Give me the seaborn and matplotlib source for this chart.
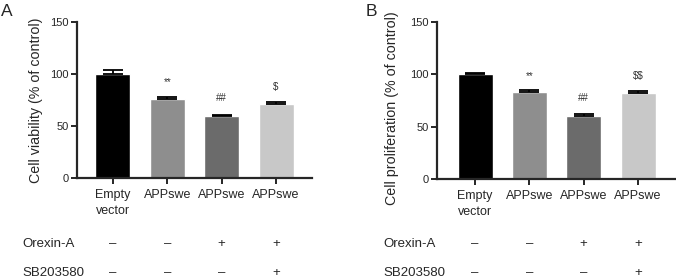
import matplotlib
matplotlib.use("Agg")
import matplotlib.pyplot as plt
import matplotlib.transforms as mtransforms
import seaborn as sns
import pandas as pd

groups = ["Empty vector", "APPswe", "APPswe+OXA", "APPswe+OXA+SB"]
tick_labels = ["Empty\nvector", "APPswe", "APPswe", "APPswe"]
colors = ["#000000", "#8e8e8e", "#6b6b6b", "#c8c8c8"]

viability = [100, 76, 59.5, 71]
viability_err = [3.5, 2.0, 1.5, 2.0]
viability_marks = ["", "**", "##", "$"]
viability_mark_y = [None, 87, 72, 83]

proliferation = [100, 83, 60, 82.5]
proliferation_err = [1.5, 2.3, 2.4, 2.0]
proliferation_marks = ["", "**", "##", "$$"]
proliferation_mark_y = [None, 94, 73, 94]

orexin = ["–", "–", "+", "+"]
sb203580 = ["–", "–", "–", "+"]

sns.set_style("ticks")
plt.rcParams["font.family"] = ["Liberation Sans", "DejaVu Sans"]

W, H = 676, 280
fig = plt.figure(figsize=(6.76, 2.8), dpi=100)
axA = fig.add_axes([77 / W, 1 - 178 / H, (312 - 77) / W, (178 - 22) / H])
axB = fig.add_axes([437 / W, 1 - 179 / H, (675 - 437) / W, (179 - 22) / H])


def panel(ax, vals, errs, marks, mark_y, ylabel, ylabel_x, ylabel_y, xlim,
          letter, letter_x, row_label_x):
    df = pd.DataFrame({"group": groups, "value": vals})
    sns.barplot(data=df, x="group", y="value", hue="group", palette=colors,
                legend=False, width=0.645, ax=ax, saturation=1, errorbar=None)
    xs = list(range(len(vals)))
    ax.errorbar(xs, vals, yerr=[[0] * len(errs), errs], fmt="none",
                ecolor="black", elinewidth=1.3, capsize=7, capthick=1.3)
    for x, t, y in zip(xs, marks, mark_y):
        if t:
            ax.text(x, y, t, ha="center", va="bottom", fontsize=7,
                    color="#333333", parse_math=False)
    ax.set_ylim(0, 150)
    ax.set_yticks([0, 50, 100, 150])
    ax.set_xlim(*xlim)
    ax.set_xticks(xs)
    ax.set_xticklabels(tick_labels, fontsize=9, linespacing=1.45)
    ax.set_xlabel("")
    ax.set_ylabel(ylabel, fontsize=10.3)
    ax.yaxis.set_label_coords(ylabel_x, ylabel_y)
    sns.despine(ax=ax)
    for s in ["left", "bottom"]:
        ax.spines[s].set_linewidth(1.6)
    ax.tick_params(axis="x", width=1.4, length=4, labelsize=9, pad=4)
    ax.tick_params(axis="y", width=1.4, length=4, labelsize=8, pad=2)

    trans = mtransforms.blended_transform_factory(ax.transData, fig.transFigure)
    for x, o, s in zip(xs, orexin, sb203580):
        ax.text(x, 1 - 244 / H, o, transform=trans, ha="center", va="center", fontsize=9.5)
        ax.text(x, 1 - 273 / H, s, transform=trans, ha="center", va="center", fontsize=9.5)
    fig.text(row_label_x, 1 - 244 / H, "Orexin-A", ha="left", va="center", fontsize=9.5)
    fig.text(row_label_x, 1 - 273 / H, "SB203580", ha="left", va="center", fontsize=9.5)
    fig.text(letter_x, 1 - 11 / H, letter, ha="left", va="center", fontsize=12.5)


panel(axA, viability, viability_err, viability_marks, viability_mark_y,
      "Cell viability (% of control)", -0.145, 0.5, (-0.66, 3.66),
      "A", 1 / W, 22 / W)
panel(axB, proliferation, proliferation_err, proliferation_marks, proliferation_mark_y,
      "Cell proliferation (% of control)", -0.16, 0.45, (-0.70, 3.68),
      "B", 366 / W, 383 / W)

fig.savefig("out.png", dpi=100)
